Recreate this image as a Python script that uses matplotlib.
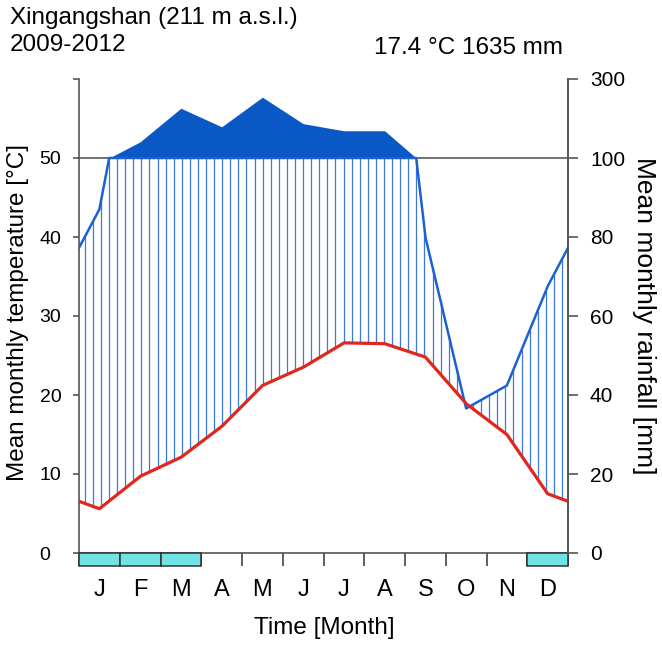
import numpy as np
import matplotlib
matplotlib.use('Agg')
import matplotlib.pyplot as plt
from matplotlib.patches import Rectangle

plt.rcParams['font.family'] = ['Liberation Sans', 'DejaVu Sans']

station = 'Xingangshan (211 m a.s.l.)'
period = '2009-2012'
summary = '17.4 °C 1635 mm'
months = ['J', 'F', 'M', 'A', 'M', 'J', 'J', 'A', 'S', 'O', 'N', 'D']
temp = [5.6, 9.7, 12.1, 16.0, 21.2, 23.5, 26.6, 26.5, 24.8, 18.9, 15.0, 7.5]
rain = [87, 141, 226, 179, 254, 187, 169, 169, 80, 36.6, 42.4, 67.5]
frost = [1, 1, 1, 0, 0, 0, 0, 0, 0, 0, 0, 1]
temp_ticks = [0, 10, 20, 30, 40, 50, 60]
temp_labels = ['0', '10', '20', '30', '40', '50', '']
rain_labels = ['0', '20', '40', '60', '80', '100', '300']


def rain_scale(mm):
    # Walter-Lieth: 2 mm per degree up to 100 mm, 20 mm per degree above
    mm = np.asarray(mm, dtype=float)
    return np.where(mm <= 100, mm / 2.0, 50 + (mm - 100) / 20.0)


# month centres plus wrapped edges
xe = np.concatenate([[0], np.arange(12) + 0.5, [12]])
t_edge = (temp[0] + temp[-1]) / 2
r_edge = (rain[0] + rain[-1]) / 2
temp_e = np.concatenate([[t_edge], temp, [t_edge]])
rain_e = np.concatenate([[r_edge], rain, [r_edge]])

xf = np.linspace(0, 12, 2401)
tf = np.interp(xf, xe, temp_e)
rf = rain_scale(np.interp(xf, xe, rain_e))

fig = plt.figure(figsize=(6.62, 6.47), dpi=100)
ax = fig.add_axes([79 / 662, 94 / 647, 489 / 662, 474 / 647])
ax.set_xlim(0, 12)
ax.set_ylim(0, 60)

line_col = '#555555'
blue_fill = '#0a58c6'
hatch_col = '#3c78dc'
lab_fs = 17.5

ax.axhline(50, color='#666666', lw=1.3, zorder=1)

# humid period hatching
xh = 0.14 + 0.1985 * np.arange(60)
th = np.interp(xh, xf, tf)
rh = np.minimum(np.interp(xh, xf, rf), 50)
ok = rh > th
ax.vlines(xh[ok], th[ok], rh[ok], color=hatch_col, lw=0.9, zorder=2)

# perhumid part above 100 mm
ax.fill_between(xf, 50, rf, where=rf > 50, color=blue_fill, lw=0, zorder=3)

ax.plot(xf, np.minimum(rf, 50), color='#1c60d2', lw=1.8, zorder=4)
ax.plot(xf, tf, color='#e2261c', lw=2.3, zorder=5)

# frost months along the base
box_h = 1.64
for i, f in enumerate(frost):
    if f:
        ax.add_patch(Rectangle((i, -box_h), 1, box_h, facecolor='#72e3e3',
                               edgecolor='#333333', lw=1.1, clip_on=False, zorder=6))

ax.spines['top'].set_visible(False)
for s in ['left', 'right', 'bottom']:
    ax.spines[s].set_color(line_col)
    ax.spines[s].set_linewidth(1.2)

ax.set_yticks(temp_ticks)
ax.set_yticklabels(temp_labels)
ax.tick_params(axis='y', left=True, right=False, length=4.3, width=1.2,
               color=line_col, pad=24, labelsize=14)
for lab in ax.get_yticklabels():
    lab.set_horizontalalignment('left')

ax.set_xticks(np.arange(13))
ax.set_xticklabels([])
ax.set_xticks(np.arange(12) + 0.5, minor=True)
ax.set_xticklabels(months, minor=True)
ax.tick_params(axis='x', which='major', length=9.4, width=1.1, color='#333333')
ax.tick_params(axis='x', which='minor', length=0, pad=19, labelsize=17)

ax2 = ax.twinx()
ax2.set_ylim(0, 60)
ax2.set_yticks(temp_ticks)
ax2.set_yticklabels(rain_labels)
ax2.tick_params(axis='y', length=7.2, width=1.2, color=line_col, pad=8.6,
                labelsize=15)
for s in ['top', 'left', 'bottom']:
    ax2.spines[s].set_visible(False)
ax2.spines['right'].set_color(line_col)
ax2.spines['right'].set_linewidth(1.2)

ax.set_ylabel('Mean monthly temperature [°C]', fontsize=lab_fs)
ax.yaxis.set_label_coords(-0.102, 0.508)
ax2.set_ylabel('Mean monthly rainfall [mm]', fontsize=19, rotation=-90)
ax2.yaxis.set_label_coords(1.180, 0.500)
ax.set_xlabel('Time [Month]', fontsize=lab_fs)
ax.xaxis.set_label_coords(0.501, -0.134)

fig.text(10 / 662, 1 - 18 / 647, station, fontsize=lab_fs, va='center', ha='left')
fig.text(10 / 662, 1 - 45 / 647, period, fontsize=lab_fs, va='center', ha='left')
fig.text(563 / 662, 1 - 48 / 647, summary, fontsize=lab_fs, va='center', ha='right')

fig.savefig('out.png', dpi=100)
